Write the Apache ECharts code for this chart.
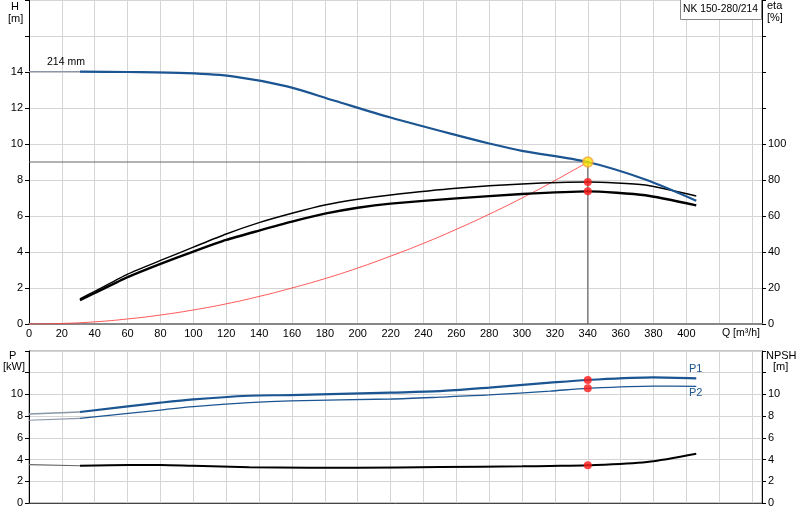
<!DOCTYPE html>
<html><head><meta charset="utf-8">
<script src="https://cdn.jsdelivr.net/npm/echarts@6/dist/echarts.min.js"></script>
<style>html,body{margin:0;padding:0;background:#fff}#c{width:800px;height:520px}</style>
</head><body><div id="c"></div>
<script>
// Q axis end
const qMax = 446;
// Head curve (H, m)
const qH = [31, 60, 96, 124, 157, 186, 220, 260, 280, 300, 340, 375, 406];
const headH = [14.02, 14.0, 13.94, 13.76, 13.2, 12.4, 11.47, 10.49, 10.03, 9.62, 9.0, 8.03, 6.85];
const headExtQ = [0, 31];
const headExtH = [14.02, 14.02];
// Efficiency curves (%)
const qEta = [31, 40, 60, 80, 100, 120, 140, 160, 180, 200, 220, 260, 300, 340, 375, 406];
const etaUpper = [14.0, 18.1, 27.7, 35.3, 42.7, 50.0, 56.3, 61.5, 66.1, 69.3, 71.7, 75.4, 77.8, 78.9, 77.2, 71.1];
const etaLower = [13.3, 17.2, 26.0, 33.4, 40.2, 46.7, 51.9, 56.9, 61.3, 64.6, 66.9, 69.8, 72.2, 73.7, 71.5, 65.9];
// System curve (red)
const qSys = [0, 20, 40, 60, 80, 100, 120, 140, 160, 180, 200, 220, 240, 260, 280, 300, 320, 340];
const hSys = [0, 0.03, 0.12, 0.28, 0.5, 0.78, 1.12, 1.53, 2.0, 2.52, 3.11, 3.77, 4.48, 5.26, 6.1, 7.0, 7.97, 9.0];
// Duty point
const dutyQ = 340, dutyH = 9.0, dutyEtaU = 78.9, dutyEtaL = 73.7;
// Power curves (kW)
const qP = [31, 80, 100, 134, 159, 220, 250, 280, 317, 340, 380, 406];
const p1 = [8.38, 9.24, 9.55, 9.88, 9.94, 10.17, 10.3, 10.63, 11.08, 11.33, 11.57, 11.48];
const p2 = [7.8, 8.56, 8.87, 9.24, 9.4, 9.58, 9.75, 9.95, 10.31, 10.56, 10.77, 10.74];
const p1Ext = [8.2, 8.38];
const p2Ext = [7.62, 7.8];
// NPSH (m)
const qN = [31, 61, 80, 100, 134, 170, 200, 250, 300, 317, 340, 376, 406];
const npsh = [3.43, 3.5, 3.5, 3.42, 3.3, 3.25, 3.25, 3.32, 3.38, 3.41, 3.47, 3.78, 4.54];
const npshExt = [3.53, 3.43];
const dutyP1 = 11.33, dutyP2 = 10.56, dutyN = 3.47;

const zip = (a, b) => a.map((v, i) => [v, b[i]]);
const FONT = 'Liberation Sans';
const lbl = {color: '#000', fontSize: 11, fontFamily: FONT};
const grid = {color: '#d4d4d4', width: 1};
const txt = (left, top, text, size, fill) => ({type: 'text', left, top, z: 100, style: {text, font: size + 'px ' + FONT, fill: fill || '#000'}});

const chart = echarts.init(document.getElementById('c'));
chart.setOption({
  animation: false,
  grid: [
    {left: 29, right: 38, top: 0, height: 324},
    {left: 29, right: 38, top: 351, height: 152, show: true, borderColor: '#888', borderWidth: 1}
  ],
  xAxis: [
    {gridIndex: 0, type: 'value', min: 0, max: qMax, interval: 20,
     axisLine: {lineStyle: {color: '#888', width: 2}}, axisTick: {show: false},
     axisLabel: Object.assign({}, lbl, {margin: 4, formatter: v => v <= 400 ? v : ''}),
     splitLine: {lineStyle: grid}},
    {gridIndex: 1, type: 'value', min: 0, max: qMax, interval: 20,
     axisLine: {lineStyle: {color: '#444', width: 1}}, axisTick: {show: false},
     axisLabel: {show: false}, splitLine: {lineStyle: grid}}
  ],
  yAxis: [
    {gridIndex: 0, type: 'value', min: 0, max: 18, interval: 2,
     axisLine: {show: true, lineStyle: {color: '#000'}}, axisTick: {show: true, length: 4, lineStyle: {color: '#000'}},
     axisLabel: Object.assign({}, lbl, {margin: 6, formatter: v => v <= 14 ? v : ''}),
     splitLine: {lineStyle: grid}},
    {gridIndex: 0, type: 'value', min: 0, max: 180, interval: 20, position: 'right',
     axisLine: {show: true, lineStyle: {color: '#000'}}, axisTick: {show: true, length: 4, lineStyle: {color: '#000'}},
     axisLabel: Object.assign({}, lbl, {margin: 6, formatter: v => v <= 100 ? v : ''}),
     splitLine: {show: false}},
    {gridIndex: 1, type: 'value', min: 0, max: 14, interval: 2,
     axisLine: {show: true, lineStyle: {color: '#000'}}, axisTick: {show: true, length: 4, lineStyle: {color: '#000'}},
     axisLabel: Object.assign({}, lbl, {margin: 6, formatter: v => v <= 10 ? v : ''}),
     splitLine: {lineStyle: grid}},
    {gridIndex: 1, type: 'value', min: 0, max: 14, interval: 2, position: 'right',
     axisLine: {show: true, lineStyle: {color: '#000'}}, axisTick: {show: true, length: 4, lineStyle: {color: '#000'}},
     axisLabel: Object.assign({}, lbl, {margin: 6, formatter: v => v <= 10 ? v : ''}),
     splitLine: {show: false}}
  ],
  series: [
    {type: 'line', xAxisIndex: 0, yAxisIndex: 0, data: zip(headExtQ, headExtH), symbol: 'none', lineStyle: {color: '#8a96a6', width: 1.2}},
    {type: 'line', xAxisIndex: 0, yAxisIndex: 0, data: zip(qSys, hSys), symbol: 'none', smooth: true, lineStyle: {color: '#ff3b3b', width: 1, opacity: 0.85}},
    {type: 'line', xAxisIndex: 0, yAxisIndex: 0, data: [[0, dutyH], [dutyQ, dutyH]], symbol: 'none', lineStyle: {color: '#666', width: 1}},
    {type: 'line', xAxisIndex: 0, yAxisIndex: 0, data: [[dutyQ, dutyH], [dutyQ, 0]], symbol: 'none', lineStyle: {color: '#555', width: 1}},
    {type: 'line', xAxisIndex: 0, yAxisIndex: 1, data: zip(qEta, etaUpper), symbol: 'none', smooth: 0.2, lineStyle: {color: '#000', width: 1.4}},
    {type: 'line', xAxisIndex: 0, yAxisIndex: 1, data: zip(qEta, etaLower), symbol: 'none', smooth: 0.2, lineStyle: {color: '#000', width: 2.4}},
    {type: 'line', xAxisIndex: 0, yAxisIndex: 0, data: zip(qH, headH), symbol: 'none', smooth: 0.3, lineStyle: {color: '#1b5592', width: 2.2}},
    {type: 'scatter', xAxisIndex: 0, yAxisIndex: 1, data: [[dutyQ, dutyEtaU], [dutyQ, dutyEtaL]], symbolSize: 8, itemStyle: {color: '#ff1a1a'}, z: 5},
    {type: 'scatter', xAxisIndex: 0, yAxisIndex: 0, data: [[dutyQ, dutyH]], symbolSize: 10, itemStyle: {color: '#ffe600', borderColor: '#f0a040', borderWidth: 1.5}, z: 6},
    // bottom
    {type: 'line', xAxisIndex: 1, yAxisIndex: 2, data: zip([0, 31], p1Ext), symbol: 'none', lineStyle: {color: '#8a96a6', width: 1.5}},
    {type: 'line', xAxisIndex: 1, yAxisIndex: 2, data: zip([0, 31], p2Ext), symbol: 'none', lineStyle: {color: '#8a96a6', width: 1.2}},
    {type: 'line', xAxisIndex: 1, yAxisIndex: 3, data: zip([0, 31], npshExt), symbol: 'none', lineStyle: {color: '#666', width: 1.2}},
    {type: 'line', xAxisIndex: 1, yAxisIndex: 2, data: zip(qP, p1), symbol: 'none', smooth: 0.3, lineStyle: {color: '#1b5592', width: 2.2}},
    {type: 'line', xAxisIndex: 1, yAxisIndex: 2, data: zip(qP, p2), symbol: 'none', smooth: 0.3, lineStyle: {color: '#1b5592', width: 1.3}},
    {type: 'line', xAxisIndex: 1, yAxisIndex: 3, data: zip(qN, npsh), symbol: 'none', smooth: 0.3, lineStyle: {color: '#000', width: 2}},
    {type: 'scatter', xAxisIndex: 1, yAxisIndex: 2, data: [[dutyQ, dutyP1], [dutyQ, dutyP2]], symbolSize: 8, itemStyle: {color: '#ff1a1a'}, z: 5},
    {type: 'scatter', xAxisIndex: 1, yAxisIndex: 3, data: [[dutyQ, dutyN]], symbolSize: 8, itemStyle: {color: '#ff1a1a'}, z: 5}
  ],
  graphic: [
    txt(11, 1, 'H', 11),
    txt(8, 13, '[m]', 11),
    txt(767, 0, 'eta', 11),
    txt(767, 12, '[%]', 11),
    txt(47, 57, '214 mm', 10.5),
    {type: 'rect', left: 680, top: -1, z: 100, shape: {x: 0, y: 0, width: 81, height: 20}, style: {fill: '#fff', stroke: '#888', lineWidth: 1}},
    txt(683, 4, 'NK 150-280/214', 10.3),
    txt(722, 328, 'Q [m³/h]', 10.5),
    txt(9, 350, 'P', 11),
    txt(3, 361, '[kW]', 11),
    txt(766, 350, 'NPSH', 11),
    txt(773, 361, '[m]', 11),
    txt(689, 363, 'P1', 11, '#1b5592'),
    txt(689, 387, 'P2', 11, '#1b5592')
  ]
});
</script></body></html>
